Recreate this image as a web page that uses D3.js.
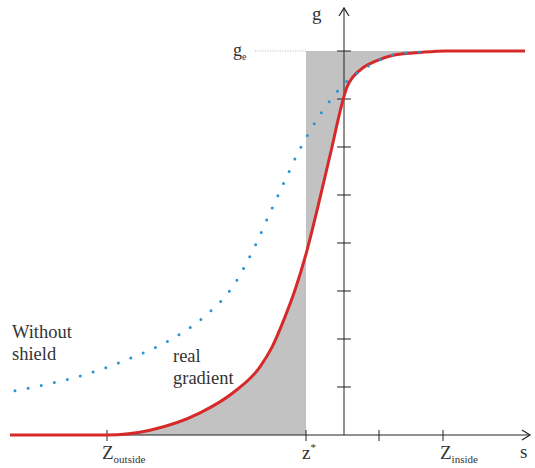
<!DOCTYPE html>
<html>
<head>
<meta charset="utf-8">
<script src="https://cdn.jsdelivr.net/npm/d3@7"></script>
<style>
  body { margin: 0; background: #fff; }
</style>
</head>
<body>
<div id="chart"></div>
<script>
// Real gradient (s, g)
var realS = [-33.4, -23.7, -19.4, -14.4, -11.1, -8.4, -7.2, -5.9, -4.9, -3.8, -2.4, -1.2, -0.6, -0.1, 0.3, 0.9, 1.9, 3.3, 4.9, 6.9, 8.6, 10.1, 18.1];
var realG = [0, 0, 0.10, 0.46, 0.88, 1.42, 1.83, 2.46, 3.02, 3.77, 4.94, 6.0, 6.56, 6.98, 7.25, 7.46, 7.65, 7.80, 7.91, 7.96, 7.985, 8.0, 8.0];

// Gradient without shield
var freeS = [-32.9, -28.8, -24.8, -21.0, -17.2, -13.9, -11.1, -9.1, -7.4, -6.2, -4.5, -2.4, 0.1, 2.3, 4.9, 7.6];
var freeG = [0.92, 1.10, 1.33, 1.63, 2.0, 2.48, 3.10, 3.85, 4.63, 5.17, 5.92, 6.67, 7.33, 7.67, 7.92, 7.98];

var gE = 8;
var yTicks = [1, 2, 3, 4, 5, 6, 7, 8];
var xTicks = [-23.7, -3.8, 3.5, 9.9];
var zOutside = -23.7, zStar = -3.8, zInside = 9.9;

var width = 535, height = 468;
var serif = "'Liberation Serif', 'Times New Roman', serif";
var svg = d3.select("#chart").append("svg")
    .attr("width", width)
    .attr("height", height);

var x = d3.scaleLinear().domain([-34, 19]).range([4, 534]);
var y = d3.scaleLinear().domain([0, 8]).range([435, 51]);

var real = realS.map(function(s, i){ return {s: s, g: realG[i]}; });
var free = freeS.map(function(s, i){ return {s: s, g: freeG[i]}; });

// gray areas: below the curve left of z*, above it right of z*
var below = real.filter(function(d){ return d.s >= zOutside && d.s <= zStar; });
var above = real.filter(function(d){ return d.s >= zStar && d.s <= 10.1; });

svg.append("path")
    .datum(below)
    .attr("fill", "#c2c2c2")
    .attr("d", d3.area().curve(d3.curveMonotoneX)
        .x(function(d){ return x(d.s); })
        .y0(y(0))
        .y1(function(d){ return y(d.g); }));

svg.append("path")
    .datum(above)
    .attr("fill", "#c2c2c2")
    .attr("d", d3.area().curve(d3.curveMonotoneX)
        .x(function(d){ return x(d.s); })
        .y0(function(d){ return y(d.g); })
        .y1(y(gE)));

// g_e guide
svg.append("line")
    .attr("x1", 255).attr("x2", x(zStar))
    .attr("y1", y(gE)).attr("y2", y(gE))
    .attr("stroke", "#bbb")
    .attr("stroke-width", 1)
    .attr("stroke-dasharray", "1,1.5");

// axes
var axisColor = "#222";
svg.append("line")
    .attr("x1", 10).attr("x2", 530)
    .attr("y1", y(0)).attr("y2", y(0))
    .attr("stroke", axisColor).attr("stroke-width", 1);
svg.append("path")
    .attr("d", "M522,430L530,435L522,440")
    .attr("fill", "none").attr("stroke", axisColor).attr("stroke-width", 1.2);

svg.append("line")
    .attr("x1", x(0)).attr("x2", x(0))
    .attr("y1", y(0)).attr("y2", 8)
    .attr("stroke", axisColor).attr("stroke-width", 1);
svg.append("path")
    .attr("d", "M" + (x(0)-5) + ",16L" + x(0) + ",8L" + (x(0)+5) + ",16")
    .attr("fill", "none").attr("stroke", axisColor).attr("stroke-width", 1.2);

svg.selectAll("line.ytick")
    .data(yTicks)
    .enter().append("line")
    .attr("class", "ytick")
    .attr("x1", x(0) - 7).attr("x2", x(0) + 7)
    .attr("y1", y).attr("y2", y)
    .attr("stroke", axisColor).attr("stroke-width", 1);

svg.selectAll("line.xtick")
    .data(xTicks)
    .enter().append("line")
    .attr("class", "xtick")
    .attr("x1", x).attr("x2", x)
    .attr("y1", y(0) - 5).attr("y2", y(0) + 6)
    .attr("stroke", axisColor).attr("stroke-width", 1);

// curves
svg.append("path")
    .datum(real)
    .attr("fill", "none")
    .attr("stroke", "#d62a2a")
    .attr("stroke-width", 3)
    .attr("d", d3.line().curve(d3.curveMonotoneX)
        .x(function(d){ return x(d.s); })
        .y(function(d){ return y(d.g); }));

svg.append("path")
    .datum(free)
    .attr("fill", "none")
    .attr("stroke", "#2b93d3")
    .attr("stroke-width", 3)
    .attr("stroke-linecap", "round")
    .attr("stroke-dasharray", "0,13.4")
    .attr("d", d3.line().curve(d3.curveMonotoneX)
        .x(function(d){ return x(d.s); })
        .y(function(d){ return y(d.g); }));

// labels
function label(px, py, txt, size) {
    return svg.append("text")
        .attr("x", px).attr("y", py)
        .style("font-family", serif)
        .style("font-size", size + "px")
        .style("fill", "#333")
        .text(txt);
}

function subLabel(px, py, main, sub, mainSize, subSize, sup) {
    var t = label(px, py, main, mainSize);
    t.append("tspan")
        .style("font-size", subSize + "px")
        .attr("dy", sup ? -8 : 4)
        .text(sub);
    return t;
}

subLabel(x(zOutside) - 5, 459, "Z", "outside", 19, 11);
subLabel(x(zStar) - 4, 459, "z", "*", 19, 11, true);
subLabel(x(zInside) - 3, 459, "Z", "inside", 19, 11);
subLabel(233, 56, "g", "e", 18, 10);

label(520, 458, "s", 19);
label(312, 20, "g", 19);

label(12, 338, "Without", 18.5);
label(12, 360, "shield", 18.5);
label(173, 362, "real", 18.5);
label(173, 384, "gradient", 18.5);
</script>
</body>
</html>
